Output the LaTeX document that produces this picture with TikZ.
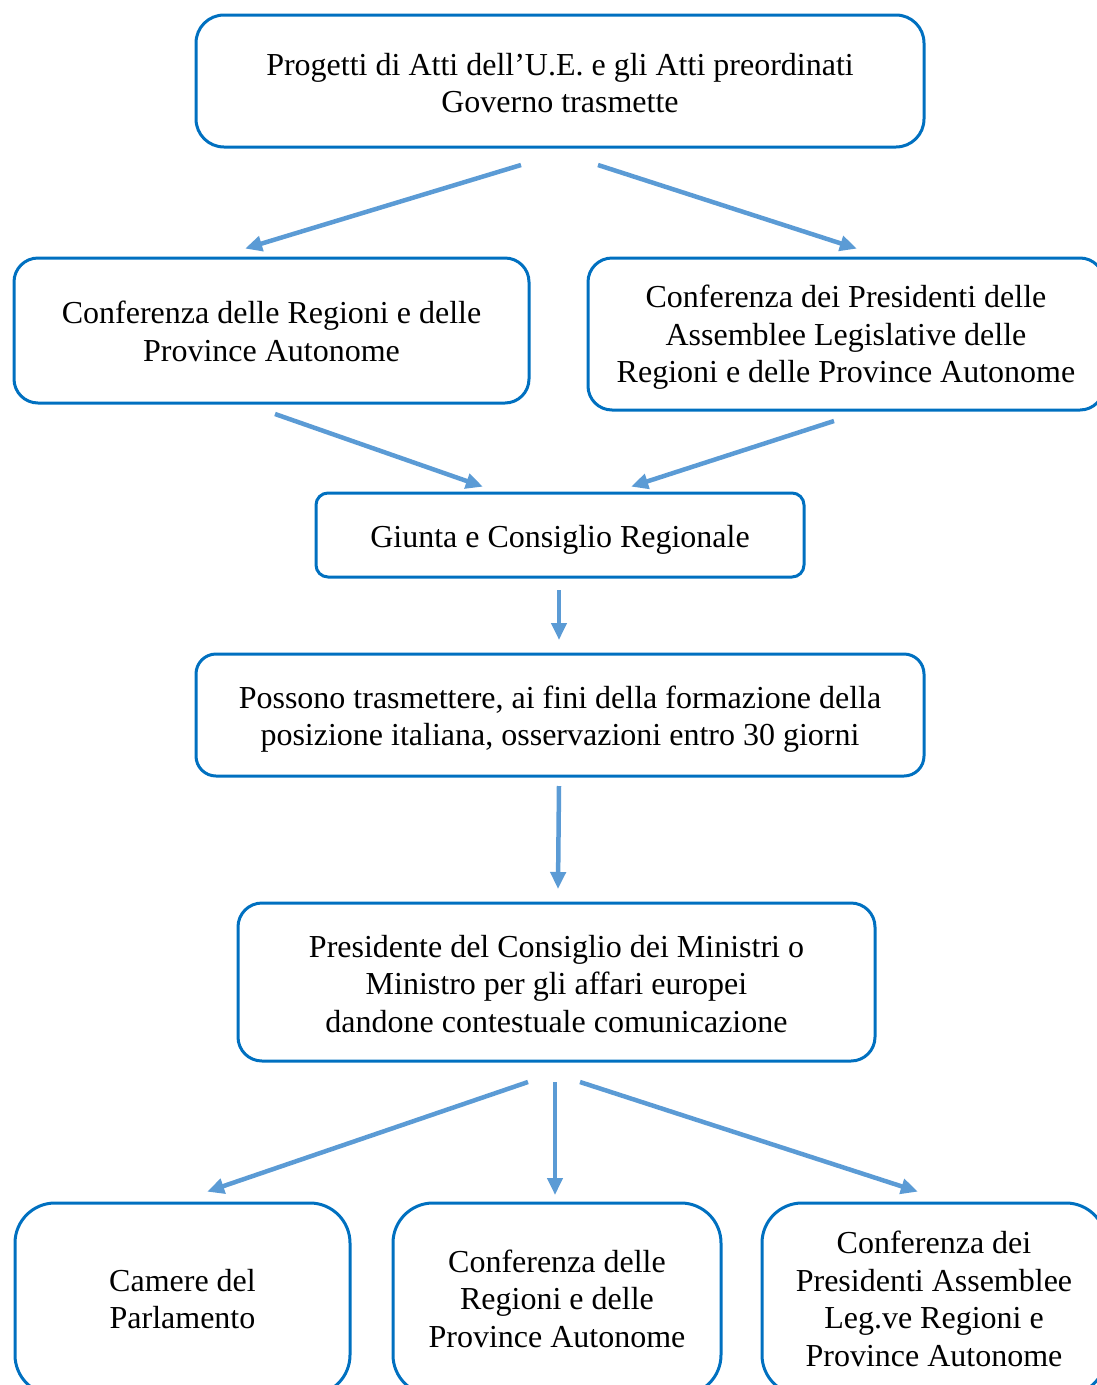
\documentclass[tikz,border=0pt]{standalone}
\usepackage{fontspec}
\setmainfont{Liberation Serif}
\usetikzlibrary{arrows.meta}
\definecolor{boxblue}{HTML}{0070C0}
\definecolor{arrowblue}{HTML}{5B9BD5}
\begin{document}
\begin{tikzpicture}[x=1pt,y=-1pt,
  box/.style={draw=boxblue, line width=3pt, inner sep=0pt},
  txt/.style={align=center, inner sep=0pt, font=\fontsize{32}{37.5}\selectfont},
  conn/.style={draw=arrowblue, line width=4.5pt, -{Triangle[length=17pt,width=15pt]}, shorten >=-2pt}]
\useasboundingbox (0,0) rectangle (1097,1385);
\node[box, rounded corners=28pt, minimum width=728pt, minimum height=132pt] (b1) at (560,81) {};
\node[txt] (t1) at (560,83)
  {Progetti di Atti dell’U.E. e gli Atti preordinati\\Governo trasmette};
\node[box, rounded corners=24pt, minimum width=515pt, minimum height=145pt] (b2) at (271.5,330.5) {};
\node[txt] (t2) at (271.5,331.5)
  {Conferenza delle Regioni e delle\\Province Autonome};
\node[box, rounded corners=24pt, minimum width=516pt, minimum height=152pt] (b3) at (846,334) {};
\node[txt] (t3) at (846,337.5)
  {Conferenza dei Presidenti delle\\Assemblee Legislative delle\\Regioni e delle Province Autonome};
\node[box, rounded corners=12pt, minimum width=488pt, minimum height=84pt] (b4) at (560,535) {};
\node[txt] (t4) at (560,540)
  {Giunta e Consiglio Regionale};
\node[box, rounded corners=20pt, minimum width=728pt, minimum height=122pt] (b5) at (560,715) {};
\node[txt] (t5) at (560,719)
  {Possono trasmettere, ai fini della formazione della\\posizione italiana, osservazioni entro 30 giorni};
\node[box, rounded corners=24pt, minimum width=637pt, minimum height=158pt] (b6) at (556.5,982) {};
\node[txt] (t6) at (556.5,984)
  {Presidente del Consiglio dei Ministri o\\Ministro per gli affari europei\\dandone contestuale comunicazione};
\node[box, rounded corners=40pt, minimum width=335pt, minimum height=192pt] (b7) at (182.5,1299) {};
\node[txt] (t7) at (182.5,1299)
  {Camere del\\Parlamento};
\node[box, rounded corners=40pt, minimum width=328pt, minimum height=192pt] (b8) at (557,1299) {};
\node[txt] (t8) at (557,1298.5)
  {Conferenza delle\\Regioni e delle\\Province Autonome};
\node[box, rounded corners=40pt, minimum width=344pt, minimum height=192pt] (b9) at (934,1299) {};
\node[txt] (t9) at (934,1299)
  {Conferenza dei\\Presidenti Assemblee\\Leg.ve Regioni e\\Province Autonome};
\coordinate (a1s) at (521,165); \coordinate (a1e) at (247,248);
\coordinate (a2s) at (598,165); \coordinate (a2e) at (855,248);
\coordinate (a3s) at (275,414); \coordinate (a3e) at (481,486);
\coordinate (a4s) at (834,421); \coordinate (a4e) at (633,486);
\coordinate (a5s) at (559,590); \coordinate (a5e) at (559,638);
\coordinate (a6s) at (559,786); \coordinate (a6e) at (558,887);
\coordinate (a7s) at (528,1082); \coordinate (a7e) at (209,1191);
\coordinate (a8s) at (555,1082); \coordinate (a8e) at (555,1193);
\coordinate (a9s) at (580,1082); \coordinate (a9e) at (916,1191);
\foreach \i in {1,...,9} {\draw[conn] (a\i s) -- (a\i e);}
\end{tikzpicture}
\end{document}
